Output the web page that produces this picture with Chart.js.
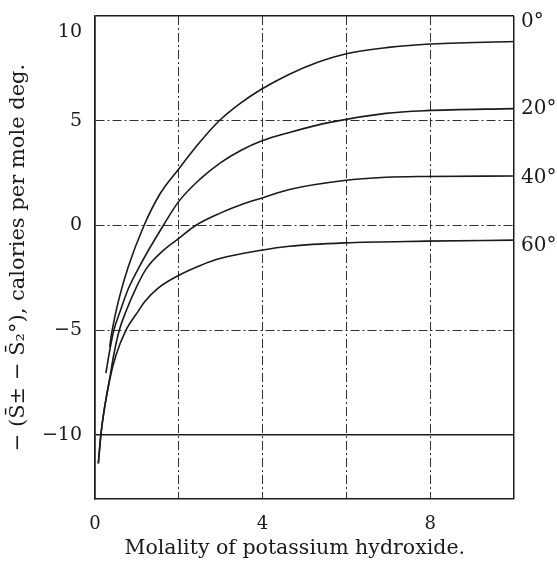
<!DOCTYPE html>
<html>
<head>
<meta charset="utf-8">
<script src="https://cdn.jsdelivr.net/npm/chart.js@4.4.1/dist/chart.umd.min.js"></script>
<style>
html,body{margin:0;padding:0;background:#fff;}
#wrap{width:557px;height:561px;}
</style>
</head>
<body>
<div id="wrap"><canvas id="c" width="557" height="561"></canvas></div>
<script>
// Data
const x0deg  = [0.35, 0.41, 0.56, 0.79, 1.17, 1.55, 2.0, 2.45, 2.94, 3.45, 3.97, 4.64, 5.3, 6.0, 7.0, 7.9, 10];
const y0deg  = [-5.8, -5.0, -3.6, -2.0, 0.0, 1.5, 2.7, 3.85, 4.95, 5.8, 6.5, 7.22, 7.78, 8.2, 8.5, 8.65, 8.78];
const x20deg = [0.26, 0.34, 0.45, 0.6, 0.8, 1.05, 1.3, 1.63, 2.0, 2.5, 3.0, 3.5, 3.97, 4.64, 5.6, 6.94, 7.9, 10];
const y20deg = [-7.05, -6.1, -5.0, -4.1, -3.0, -2.0, -1.1, 0.0, 1.15, 2.2, 3.0, 3.6, 4.03, 4.44, 4.92, 5.35, 5.48, 5.58];
const x40deg = [0.08, 0.14, 0.22, 0.34, 0.45, 0.58, 0.74, 1.0, 1.23, 1.6, 2.0, 2.4, 3.0, 3.5, 3.97, 4.64, 5.95, 6.94, 7.9, 10];
const y40deg = [-11.36, -10, -8.8, -7.45, -6.15, -5.0, -4.1, -2.9, -2.05, -1.25, -0.62, 0.0, 0.6, 1.0, 1.3, 1.72, 2.15, 2.3, 2.34, 2.36];
const x60deg = [0.08, 0.14, 0.22, 0.34, 0.5, 0.74, 1.03, 1.19, 1.5, 1.98, 2.5, 2.98, 3.97, 4.64, 5.95, 7.9, 10];
const y60deg = [-11.36, -10, -8.8, -7.45, -6.2, -5.0, -4.1, -3.63, -3.0, -2.4, -1.92, -1.58, -1.18, -0.99, -0.83, -0.75, -0.7];
const curveLabels = ['0°', '20°', '40°', '60°'];
const xTickLabels = [0, 4, 8];
const yTickLabels = [10, 5, 0, -5, -10];

const FONT = '"DejaVu Serif", "Liberation Serif", serif';
const INK = '#1a1a1a';

function pts(xs, ys){ return xs.map((x,i)=>({x:x, y:ys[i]})); }
function ds(label, xs, ys){
  return {label:label, data:pts(xs,ys), borderColor:INK, borderWidth:1.6,
          pointRadius:0, fill:false, cubicInterpolationMode:'monotone'};
}
const fmt = v => (v < 0 ? '\u2212' + Math.abs(v) : String(v));

const plugin = {
  id:'extras',
  afterDraw(chart){
    const ctx = chart.ctx, xs = chart.scales.x, ys = chart.scales.y;
    ctx.save();
    ctx.fillStyle = INK;
    // the "10" tick label sits a little below the top frame
    ctx.font = '19px ' + FONT;
    ctx.textAlign = 'right'; ctx.textBaseline = 'middle';
    ctx.fillText(fmt(yTickLabels[0]), xs.left - 13, ys.getPixelForValue(yTickLabels[0]) + 16);
    // curve labels on the right, level with the curve ends
    ctx.font = '20px ' + FONT;
    ctx.textAlign = 'left';
    const sets = chart.data.datasets;
    const offs = [-19.5, 0, 2, 6];
    sets.forEach((d,i)=>{
      const last = d.data[d.data.length-1];
      ctx.fillText(curveLabels[i], xs.right + 7, ys.getPixelForValue(last.y) + offs[i]);
    });
    ctx.restore();
  }
};

new Chart(document.getElementById('c'), {
  type:'line',
  data:{datasets:[ds(curveLabels[0],x0deg,y0deg), ds(curveLabels[1],x20deg,y20deg),
                  ds(curveLabels[2],x40deg,y40deg), ds(curveLabels[3],x60deg,y60deg)]},
  options:{
    responsive:false, animation:false, devicePixelRatio:1,
    layout:{padding:{left:0, right:43, top:16, bottom:0}},
    plugins:{legend:{display:false}, tooltip:{enabled:false}},
    scales:{
      x:{type:'linear', min:0, max:10,
         afterFit(s){ s.height = 62; s.paddingLeft = 0; s.paddingRight = 0; },
         ticks:{stepSize:2, color:INK, font:{family:FONT, size:18}, padding:15, maxRotation:0,
                callback:v => xTickLabels.includes(v) ? fmt(v) : ''},
         grid:{color:INK, lineWidth:ctx => (ctx.tick && (ctx.tick.value===0||ctx.tick.value===10)) ? 1.5 : 0.9,
               drawTicks:false},
         border:{display:true, color:INK, width:1.5,
                 dash:ctx => (ctx.tick && (ctx.tick.value===0||ctx.tick.value===10)) ? [] : [9,3,2,3]},
         title:{display:true, text:'Molality of potassium hydroxide.\u00a0\u00a0\u00a0', color:INK,
                font:{family:FONT, size:20.5}, padding:{top:0, bottom:0}}
      },
      y:{type:'linear', min:-13.06, max:10,
         afterFit(s){ s.width = 95; s.paddingTop = 0; s.paddingBottom = 0; },
         ticks:{stepSize:5, includeBounds:false, color:INK, font:{family:FONT, size:19}, padding:13,
                callback:v => (yTickLabels.includes(v) && v !== yTickLabels[0]) ? fmt(v) : ''},
         grid:{color:INK, lineWidth:ctx => (ctx.tick && (ctx.tick.value===10||ctx.tick.value===-10)) ? 1.5 : 0.9,
               drawTicks:false},
         border:{display:true, color:INK, width:1.5,
                 dash:ctx => (ctx.tick && (ctx.tick.value===10||ctx.tick.value===-10)) ? [] : [9,3,2,3]},
         title:{display:true, text:'\u2212 (S\u0304\u00b1 \u2212 S\u0304\u2082\u00b0), calories per mole deg.', color:INK,
                font:{family:FONT, size:21}, padding:{top:6, bottom:0}}
      }
    }
  },
  plugins:[plugin]
});
</script>
</body>
</html>
